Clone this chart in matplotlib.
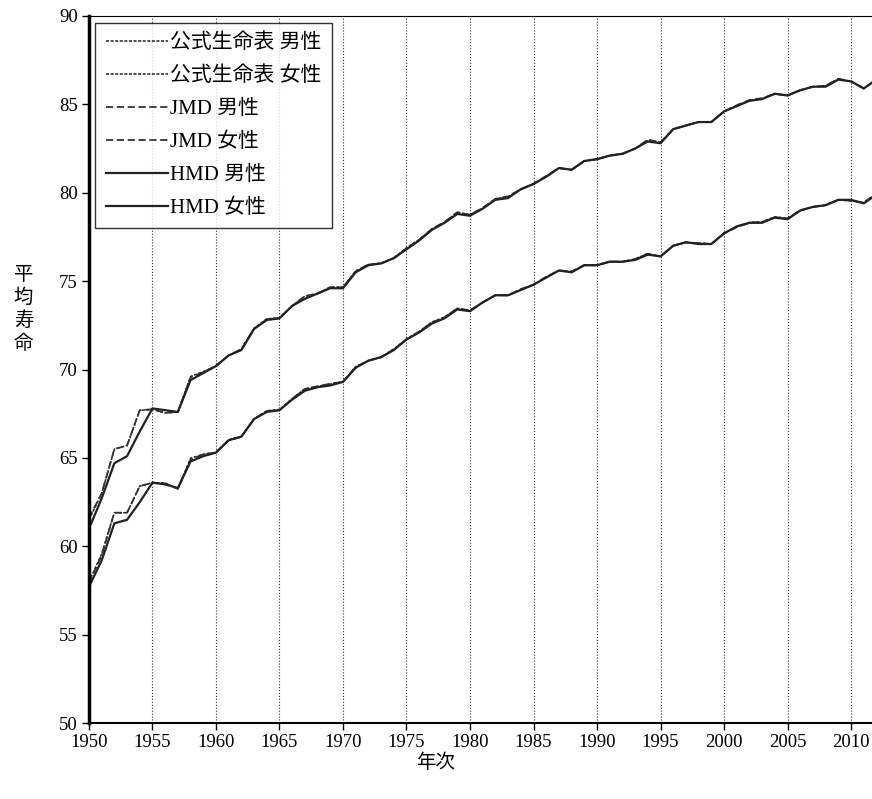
import matplotlib
matplotlib.use("Agg")
import matplotlib.pyplot as plt
import numpy as np

years = list(range(1950, 2013))

# 公式生命表 (official life tables)
off_m = [58.0, 59.57, 61.9, 61.9, 63.41, 63.60, 63.59, 63.24, 64.98, 65.21,
         65.32, 66.03, 66.23, 67.21, 67.67, 67.74, 68.35, 68.91, 69.05, 69.18,
         69.31, 70.17, 70.50, 70.70, 71.16, 71.73, 72.15, 72.69, 72.97, 73.46,
         73.35, 73.79, 74.22, 74.20, 74.54, 74.78, 75.23, 75.61, 75.54, 75.91,
         75.92, 76.11, 76.09, 76.25, 76.57, 76.38, 77.01, 77.19, 77.16, 77.10,
         77.72, 78.07, 78.32, 78.36, 78.64, 78.56, 79.00, 79.19, 79.29, 79.59,
         79.55, 79.44, 79.94]
off_f = [61.5, 62.97, 65.5, 65.7, 67.69, 67.75, 67.54, 67.60, 69.61, 69.88,
         70.19, 70.79, 71.16, 72.34, 72.87, 72.92, 73.61, 74.15, 74.30, 74.67,
         74.66, 75.58, 75.94, 76.02, 76.31, 76.89, 77.35, 77.95, 78.33, 78.89,
         78.76, 79.13, 79.66, 79.78, 80.18, 80.48, 80.93, 81.39, 81.30, 81.77,
         81.90, 82.11, 82.22, 82.51, 82.98, 82.85, 83.59, 83.82, 84.01, 83.99,
         84.60, 84.93, 85.23, 85.33, 85.59, 85.52, 85.81, 85.99, 86.05, 86.44,
         86.30, 85.90, 86.41]

# JMD
jmd_m = [57.9, 59.5, 61.9, 61.9, 63.4, 63.6, 63.55, 63.25, 64.9, 65.2,
         65.3, 66.0, 66.2, 67.2, 67.65, 67.7, 68.35, 68.9, 69.05, 69.2,
         69.3, 70.15, 70.5, 70.7, 71.15, 71.7, 72.15, 72.65, 72.95, 73.45,
         73.35, 73.8, 74.2, 74.2, 74.55, 74.8, 75.25, 75.6, 75.55, 75.9,
         75.9, 76.1, 76.1, 76.25, 76.55, 76.4, 77.0, 77.2, 77.15, 77.1,
         77.7, 78.05, 78.3, 78.35, 78.6, 78.55, 79.0, 79.2, 79.3, 79.6,
         79.55, 79.45, 79.95]
jmd_f = [61.6, 63.0, 65.5, 65.7, 67.7, 67.75, 67.55, 67.6, 69.55, 69.85,
         70.2, 70.8, 71.15, 72.3, 72.85, 72.9, 73.6, 74.15, 74.3, 74.65,
         74.65, 75.55, 75.95, 76.0, 76.3, 76.85, 77.35, 77.95, 78.35, 78.9,
         78.75, 79.15, 79.65, 79.8, 80.2, 80.5, 80.95, 81.4, 81.3, 81.8,
         81.9, 82.1, 82.2, 82.5, 83.0, 82.85, 83.6, 83.8, 84.0, 84.0,
         84.6, 84.95, 85.25, 85.35, 85.6, 85.5, 85.8, 86.0, 86.05, 86.45,
         86.3, 85.9, 86.4]

# HMD
hmd_m = [57.7, 59.2, 61.3, 61.5, 62.5, 63.6, 63.5, 63.3, 64.8, 65.1,
         65.3, 66.0, 66.2, 67.2, 67.6, 67.7, 68.3, 68.8, 69.0, 69.1,
         69.3, 70.1, 70.5, 70.7, 71.1, 71.7, 72.1, 72.6, 72.9, 73.4,
         73.3, 73.8, 74.2, 74.2, 74.5, 74.8, 75.2, 75.6, 75.5, 75.9,
         75.9, 76.1, 76.1, 76.2, 76.5, 76.4, 77.0, 77.2, 77.1, 77.1,
         77.7, 78.1, 78.3, 78.3, 78.6, 78.5, 79.0, 79.2, 79.3, 79.6,
         79.6, 79.4, 79.9]
hmd_f = [61.0, 62.7, 64.7, 65.1, 66.5, 67.8, 67.7, 67.6, 69.4, 69.8,
         70.2, 70.8, 71.1, 72.3, 72.8, 72.9, 73.6, 74.0, 74.3, 74.6,
         74.6, 75.5, 75.9, 76.0, 76.3, 76.8, 77.3, 77.9, 78.3, 78.8,
         78.7, 79.1, 79.6, 79.7, 80.2, 80.5, 80.9, 81.4, 81.3, 81.8,
         81.9, 82.1, 82.2, 82.5, 82.9, 82.8, 83.6, 83.8, 84.0, 84.0,
         84.6, 84.9, 85.2, 85.3, 85.6, 85.5, 85.8, 86.0, 86.0, 86.4,
         86.3, 85.9, 86.4]

FONT = ['Liberation Serif', 'Noto Sans CJK JP']
plt.rcParams['font.family'] = FONT
plt.rcParams['font.size'] = 13.5

fig = plt.figure(figsize=(8.72, 7.99), dpi=100)
ax = fig.add_axes([0.102, 0.095, 0.898, 0.885])

ax.plot(years, off_m, color='#222222', lw=1.1, ls=(0, (2, 1)), label='公式生命表 男性')
ax.plot(years, off_f, color='#222222', lw=1.1, ls=(0, (2, 1)), label='公式生命表 女性')
ax.plot(years, jmd_m, color='#333333', lw=1.3, ls=(0, (4, 2)), label='JMD 男性')
ax.plot(years, jmd_f, color='#333333', lw=1.3, ls=(0, (4, 2)), label='JMD 女性')
ax.plot(years, hmd_m, color='#222222', lw=1.6, label='HMD 男性')
ax.plot(years, hmd_f, color='#222222', lw=1.6, label='HMD 女性')

ax.set_xlim(1950, 2011.65)
ax.set_ylim(50, 90)
ax.set_xticks(range(1950, 2011, 5))
ax.set_yticks(range(50, 91, 5))
ax.grid(axis='x', ls=':', color='#333333', lw=0.8)
ax.tick_params(direction='out', length=5, width=1, labelsize=13.5, pad=3)

ax.spines['left'].set_linewidth(2.5)
ax.spines['bottom'].set_linewidth(1.5)
ax.spines['top'].set_linewidth(0.8)
ax.spines['right'].set_visible(False)

leg = ax.legend(loc='upper left', bbox_to_anchor=(0.008, 0.99), fontsize=15,
                frameon=True, fancybox=False, edgecolor='black',
                handlelength=3.0, handletextpad=0.1, labelspacing=0.64,
                borderpad=0.5, borderaxespad=0.0)
leg.get_frame().set_linewidth(1.0)

fig.text(0.027, 0.612, '\n'.join('平均寿命'), ha='center', va='center',
         fontsize=14, linespacing=1.3)
fig.text(0.5, 0.045, '年次', ha='center', va='center', fontsize=14)

fig.savefig('out.png', dpi=100)
